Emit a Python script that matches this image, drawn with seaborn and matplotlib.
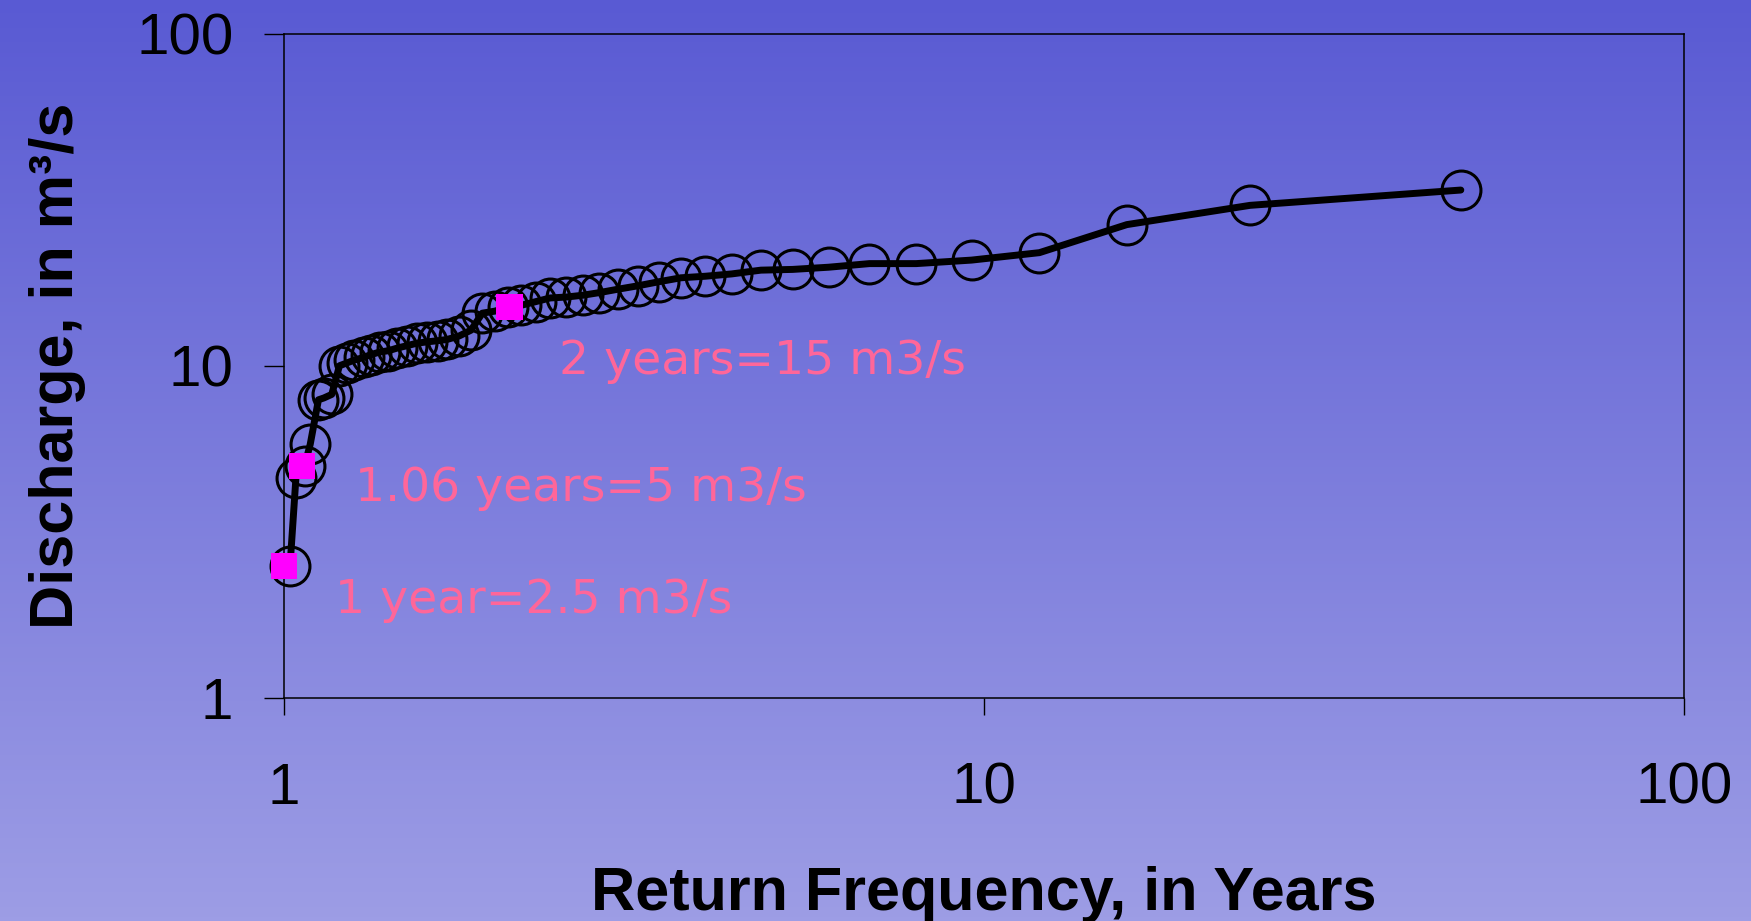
import numpy as np
import matplotlib
matplotlib.use("Agg")
import matplotlib.pyplot as plt
import seaborn as sns

# return period (years) and discharge (m3/s)
return_period = [1.02, 1.04, 1.07, 1.09, 1.12, 1.14, 1.17, 1.2, 1.23, 1.26,
                 1.3, 1.33, 1.37, 1.41, 1.45, 1.5, 1.55, 1.6, 1.66, 1.71,
                 1.78, 1.85, 1.92, 2.0, 2.09, 2.18, 2.29, 2.4, 2.53, 2.67,
                 2.82, 3.0, 3.2, 3.43, 3.69, 4.0, 4.36, 4.8, 5.33, 6.0,
                 6.86, 8.0, 9.6, 12.0, 16.0, 24.0, 48.0]
discharge = [2.5, 4.6, 5.0, 5.8, 7.9, 8.0, 8.2, 10.0, 10.2, 10.4,
             10.6, 10.8, 11.0, 11.1, 11.3, 11.5, 11.7, 11.8, 11.9, 12.0,
             12.3, 12.8, 14.4, 14.6, 15.0, 15.2, 15.6, 16.0, 16.1, 16.3,
             16.6, 17.0, 17.4, 17.9, 18.4, 18.6, 18.9, 19.4, 19.5, 19.8,
             20.3, 20.3, 20.8, 21.9, 26.6, 30.4, 33.8]

# highlighted points
marked_period = [1.0, 1.06, 2.1]
marked_discharge = [2.5, 5.0, 15.0]
marked_labels = ["1 year=2.5 m3/s", "1.06 years=5 m3/s", "2 years=15 m3/s"]
label_x = [1.184, 1.265, 2.47]
label_y = [1.80, 3.92, 9.44]

ticks = [1, 10, 100]
tick_labels = ["1", "10", "100"]

sns.set_style("ticks")
plt.rcParams["font.family"] = ["Liberation Sans", "DejaVu Sans"]

fig = plt.figure(figsize=(17.51, 9.21), dpi=100)

# gradient background
bg = fig.add_axes([0, 0, 1, 1], zorder=-1)
top = np.array([89, 90, 211]) / 255
bottom = np.array([157, 157, 229]) / 255
t = np.linspace(0, 1, 256)[:, None, None]
grad = top * (1 - t) + bottom * t
bg.imshow(grad, aspect="auto", extent=[0, 1, 0, 1])
bg.axis("off")

ax = fig.add_axes([0.1622, 0.2421, 0.7995, 0.7215])
ax.set_facecolor("none")

sns.lineplot(x=return_period, y=discharge, ax=ax, color="black", lw=5,
             sort=False, estimator=None, marker="o", markersize=28,
             markerfacecolor="none", markeredgecolor="black",
             markeredgewidth=2.2, solid_capstyle="round",
             solid_joinstyle="round", clip_on=False)
sns.scatterplot(x=marked_period, y=marked_discharge, ax=ax, marker="s",
                s=19 ** 2, color="#ff00ff", edgecolor="none", zorder=5,
                clip_on=False)

for lx, ly, txt in zip(label_x, label_y, marked_labels):
    ax.text(lx, ly, txt, color="#ff6699", fontsize=34, family="DejaVu Sans",
            ha="left", va="baseline")

ax.set_xscale("log")
ax.set_yscale("log")
ax.set_xlim(1, 100)
ax.set_ylim(1, 100)
ax.set_xticks(ticks)
ax.set_xticklabels(tick_labels)
ax.set_yticks(ticks)
ax.set_yticklabels(tick_labels)
ax.minorticks_off()

for s in ax.spines.values():
    s.set_color("black")
    s.set_linewidth(1.1)
ax.tick_params(axis="x", direction="out", length=12, width=1, pad=34,
               labelsize=42, colors="black")
ax.tick_params(axis="y", direction="out", length=14.5, width=1, pad=22,
               labelsize=42, colors="black")

ax.set_xlabel("Return Frequency, in Years", fontsize=44, fontweight="bold",
              color="black")
ax.xaxis.set_label_coords(0.5, -0.319)
ax.xaxis.label.set_va("baseline")
ax.set_ylabel("Discharge, in m³/s", fontsize=44, fontweight="bold",
              color="black")
ax.yaxis.set_label_coords(-0.162, 0.5)
ax.yaxis.label.set_va("center")

fig.savefig("out.png", dpi=100)
